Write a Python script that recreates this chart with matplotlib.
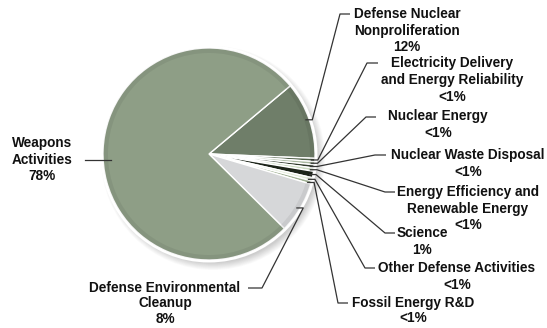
import matplotlib
matplotlib.use("Agg")
import matplotlib.pyplot as plt
import numpy as np
from matplotlib.patches import Circle, Wedge

# ---- data ----
categories = ["Defense Nuclear\nNonproliferation", "Electricity Delivery\nand Energy Reliability",
              "Nuclear Energy", "Nuclear Waste Disposal", "Energy Efficiency and\nRenewable Energy",
              "Science", "Other Defense Activities", "Fossil Energy R&D",
              "Defense Environmental\nCleanup", "Weapons\nActivities"]
values = [12, 0.5, 0.5, 0.5, 0.5, 1, 0.5, 0.5, 8, 78]
pct_labels = ["12%", "<1%", "<1%", "<1%", "<1%", "1%", "<1%", "<1%", "8%", "78%"]

colors = ["#6f7e69", "#4f5f48", "#a9b8a0", "#2e3a2a", "#c9d9bf", "#1c2419",
          "#e3ecd9", "#9fb092", "#d6d7d9", "#8e9e86"]

# label layout (pixel coords): text center x, first line y, line step, tick (x_near_line, x_near_text, y)
H = 328
label_pos = [
    (407, 14, 16.5, (340, 350, 14)),
    (452, 63, 16.8, (367, 378, 63)),
    (438, 116, 17, (366, 376, 117)),
    (468, 155, 17, (375, 386, 155)),
    (468, 192, 16.5, (385, 395, 192)),
    (422, 233, 16.5, (385, 395, 233)),
    (457, 268, 17, (365, 375, 268)),
    (413, 303, 15.5, (338, 348, 303)),
    (165, 288, 15.3, (262, 248, 288)),
    (42, 143, 16.5, None),
]

fig = plt.figure(figsize=(5.47, 3.28), dpi=100)
ax = fig.add_axes([0, 0, 1, 1])

cx, cy, R = 209, H - 154, 106

# soft shadow
for k in range(10):
    ax.add_patch(Circle((cx + 4, cy - 4), R + 6 - k * 0.8, color="#000000",
                        alpha=0.018, lw=0, zorder=0))
ax.add_patch(Circle((cx, cy), R + 2.5, color="white", lw=0, zorder=0.5))

wedges, _ = ax.pie(values, colors=colors, startangle=40, counterclock=False,
                   center=(cx, cy), radius=R, frame=True,
                   wedgeprops=dict(edgecolor="white", linewidth=1.0))
ax.set_xlim(0, 547)
ax.set_ylim(0, H)
ax.set_aspect("equal")
ax.axis("off")

# darker rim for depth
ax.add_patch(Wedge((cx, cy), R, 0, 360, width=5, color="#000000", alpha=0.06, lw=0, zorder=3))

font = dict(family="Liberation Sans", weight="bold", size=9.8, color="#111111")

for i, w in enumerate(wedges):
    tx, ty, step, tick = label_pos[i]
    lines = categories[i].split("\n") + [pct_labels[i]]
    for j, line in enumerate(lines):
        ax.text(tx, H - (ty + j * step), line, ha="center", va="center", **font)
    mid = np.deg2rad((w.theta1 + w.theta2) / 2)
    ax_x = cx + R * np.cos(mid)
    ax_y = cy + R * np.sin(mid)
    if tick is None:
        yl = ty + step
        ax.plot([85, cx - R + 8], [H - yl, H - yl], color="#333333", lw=0.9, zorder=5)
        continue
    x_line, x_text, yt = tick
    xs = [ax_x - 4, ax_x + 3, x_line, x_text]
    ys = [ax_y, ax_y, H - yt, H - yt]
    ax.plot(xs, ys, color="#333333", lw=0.9, zorder=5, solid_capstyle="butt")

fig.savefig("out.png", dpi=100)
